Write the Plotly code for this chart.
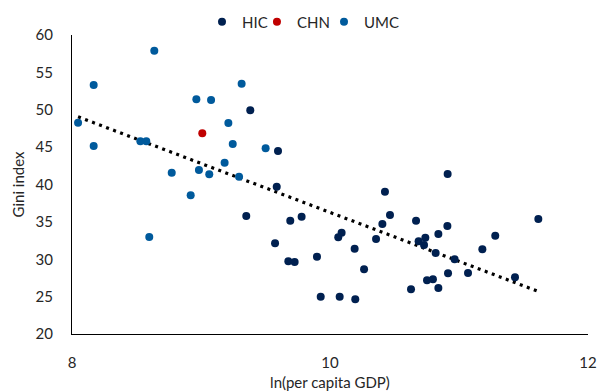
import numpy as np
import plotly.graph_objects as go

# ln(per capita GDP) and Gini index
hic_x = [9.382, 9.597, 9.587, 9.351, 9.692, 9.574, 9.677, 9.726, 9.780, 9.899,
         9.928, 10.426, 10.465, 10.406, 10.667, 10.090, 10.064, 10.357, 10.191, 10.910,
         10.840, 10.739, 10.687, 10.729, 10.819, 10.966, 11.281, 11.181, 11.615, 10.264,
         10.915, 11.070, 10.752, 10.798, 11.434, 10.628, 10.840, 10.075, 10.196, 10.912]
hic_y = [49.92, 44.48, 39.71, 35.79, 35.16, 32.13, 29.72, 29.63, 35.70, 30.34,
         24.99, 39.04, 35.92, 34.72, 35.16, 33.55, 32.93, 32.71, 31.41, 34.45,
         33.38, 32.88, 32.40, 31.90, 30.84, 29.99, 33.15, 31.33, 35.38, 28.65,
         28.12, 28.16, 27.18, 27.31, 27.58, 25.98, 26.15, 24.99, 24.64, 41.40]

chn_x = [9.010]
chn_y = [46.85]

umc_x = [8.047, 8.168, 8.168, 8.638, 8.530, 8.576, 8.773, 8.920, 8.964, 9.078,
         8.984, 9.064, 9.183, 9.212, 9.246, 9.315, 9.295, 9.501, 8.599]
umc_y = [48.27, 53.30, 45.15, 57.90, 45.78, 45.78, 41.58, 38.55, 51.40, 51.30,
         41.94, 41.36, 42.92, 48.23, 45.42, 53.49, 41.05, 44.84, 32.98]

x_ticks = [8, 10, 12]
y_ticks = [20, 25, 30, 35, 40, 45, 50, 55, 60]

# linear trend over all observations
all_x = np.array(hic_x + chn_x + umc_x)
all_y = np.array(hic_y + chn_y + umc_y)
slope, intercept = np.polyfit(all_x, all_y, 1)
tx = np.array([all_x.min(), all_x.max()])
ty = slope * tx + intercept

FONT = "Lato, 'Open Sans', sans-serif"
TXT = "#262626"

fig = go.Figure()
fig.add_trace(go.Scatter(x=tx, y=ty, mode="lines", showlegend=False, hoverinfo="skip",
                         line=dict(color="black", width=3.2, dash="3px,4.5px")))
fig.add_trace(go.Scatter(x=hic_x, y=hic_y, mode="markers", name="HIC", legend="legend",
                         marker=dict(color="#002050", size=8)))
fig.add_trace(go.Scatter(x=chn_x, y=chn_y, mode="markers", name="CHN", legend="legend2",
                         marker=dict(color="#C00000", size=8)))
fig.add_trace(go.Scatter(x=umc_x, y=umc_y, mode="markers", name="UMC", legend="legend3",
                         marker=dict(color="#005A9C", size=8)))


def leg(xpos):
    return dict(orientation="h", xref="container", yref="container",
                x=xpos, xanchor="left", y=0.9437, yanchor="middle",
                font=dict(size=15, color=TXT), itemwidth=30,
                bgcolor="rgba(0,0,0,0)")


fig.update_layout(
    width=598, height=391,
    margin=dict(l=72, r=10, t=35, b=57, autoexpand=False),
    paper_bgcolor="white", plot_bgcolor="white",
    font=dict(family=FONT, size=15, color=TXT),
    legend=leg(0.3378), legend2=leg(0.4297), legend3=leg(0.5418),
    xaxis=dict(range=[8, 12], tickvals=x_ticks, showgrid=False, zeroline=False,
               showline=True, linecolor="black", linewidth=1, ticks="",
               ticklabelstandoff=15, automargin=False, ticklabeloverflow="allow",
               title=dict(text="ln(per capita GDP)", font=dict(size=15), standoff=10)),
    yaxis=dict(range=[20, 60], tickvals=y_ticks, showgrid=False, zeroline=False,
               showline=True, linecolor="black", linewidth=1.3, ticks="",
               ticklabelstandoff=15, automargin=False,
               title=dict(text="Gini index", font=dict(size=15), standoff=7)),
)

fig.write_html("out.html", config={"displayModeBar": False},
               post_script="document.body.style.margin='0';")
